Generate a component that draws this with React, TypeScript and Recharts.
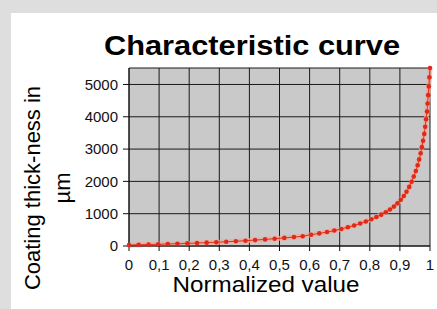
import React from "react";
import { LineChart, Line, XAxis, YAxis, CartesianGrid } from "recharts";

const normalizedValues = [
  0.0, 0.032, 0.065, 0.097, 0.129, 0.161, 0.194, 0.226, 0.258, 0.29, 0.323,
  0.355, 0.387, 0.419, 0.452, 0.484, 0.516, 0.548, 0.577, 0.605, 0.632, 0.658,
  0.682, 0.705, 0.727, 0.748, 0.768, 0.787, 0.805, 0.822, 0.838, 0.853, 0.867,
  0.88, 0.892, 0.903, 0.913, 0.922, 0.931, 0.939, 0.946, 0.953, 0.959, 0.964,
  0.969, 0.973, 0.977, 0.981, 0.984, 0.987, 0.99, 0.992, 0.994, 0.996, 0.998,
  1.0,
];

const coatingThickness = [
  30, 37, 45, 53, 62, 71, 81, 92, 104, 117, 131, 147, 164, 183, 204, 226, 250,
  276, 304, 350, 390, 432, 478, 527, 580, 636, 697, 760, 827, 897, 970, 1047,
  1130, 1220, 1320, 1430, 1550, 1680, 1830, 1990, 2150, 2320, 2500, 2680, 2870,
  3060, 3260, 3470, 3690, 3920, 4160, 4410, 4670, 4940, 5220, 5510,
];

const xTicks = [0, 0.1, 0.2, 0.3, 0.4, 0.5, 0.6, 0.7, 0.8, 0.9, 1];
const xTickLabels = ["0", "0,1", "0,2", "0,3", "0,4", "0,5", "0,6", "0,7", "0,8", "0,9", "1"];
const yTicks = [0, 1000, 2000, 3000, 4000, 5000];

const data = normalizedValues.map((x, i) => ({ x, y: coatingThickness[i] }));

const FONT = "'Liberation Sans', Arial, Helvetica, sans-serif";

export default function App() {
  return (
    <div
      style={{
        position: "absolute",
        left: 0,
        top: 0,
        width: 437,
        height: 309,
        background: "#dedede",
        overflow: "hidden",
        fontFamily: FONT,
      }}
    >
      <div
        style={{
          position: "absolute",
          left: 11,
          top: 13,
          width: 426,
          height: 296,
          background: "#ffffff",
        }}
      />
      <div style={{ position: "absolute", left: 0, top: 0 }}>
        <LineChart
          width={437}
          height={309}
          data={data}
          margin={{ top: 68, right: 7, bottom: 33, left: 0 }}
        >
          <CartesianGrid stroke="#1a1a1a" strokeWidth={1} fill="#c9c9c9" />
          <XAxis
            dataKey="x"
            type="number"
            domain={[0, 1]}
            ticks={xTicks}
            interval={0}
            tickFormatter={(v: number) => xTickLabels[xTicks.indexOf(v)] ?? String(v)}
            tick={{ fill: "#111", fontSize: 15, fontFamily: FONT }}
            tickSize={5}
            tickMargin={8}
            height={30}
            axisLine={{ stroke: "#111" }}
            tickLine={{ stroke: "#111" }}
          />
          <YAxis
            type="number"
            domain={[0, 5500]}
            ticks={yTicks}
            interval={0}
            width={129}
            tick={{ fill: "#111", fontSize: 15, fontFamily: FONT }}
            tickSize={6}
            tickMargin={5}
            axisLine={{ stroke: "#111" }}
            tickLine={{ stroke: "#111" }}
          />
          <Line
            dataKey="y"
            type="monotone"
            stroke="#f2a898"
            strokeOpacity={0.7}
            strokeWidth={5}
            dot={false}
            activeDot={false}
            isAnimationActive={false}
          />
          <Line
            dataKey="y"
            type="monotone"
            stroke="#e0301e"
            strokeWidth={1}
            dot={{ r: 2.3, fill: "#e02a18", stroke: "none" }}
            activeDot={false}
            isAnimationActive={false}
          />
        </LineChart>
      </div>
      <div
        style={{
          position: "absolute",
          left: 252,
          top: 31,
          transform: "translateX(-50%) scaleX(1.1)",
          whiteSpace: "nowrap",
          fontSize: 28,
          fontWeight: "bold",
          color: "#000",
          lineHeight: "30px",
        }}
      >
        Characteristic curve
      </div>
      <div
        style={{
          position: "absolute",
          left: 266,
          top: 273,
          transform: "translateX(-50%) scaleX(1.1)",
          whiteSpace: "nowrap",
          fontSize: 22,
          color: "#000",
          lineHeight: "24px",
        }}
      >
        Normalized value
      </div>
      <div
        style={{
          position: "absolute",
          left: 48,
          top: 188,
          transform: "translate(-50%, -50%) rotate(-90deg)",
          whiteSpace: "nowrap",
          fontSize: 22,
          color: "#000",
          lineHeight: "30px",
          textAlign: "center",
        }}
      >
        Coating thick-ness in
        <br />
        µm
      </div>
    </div>
  );
}
